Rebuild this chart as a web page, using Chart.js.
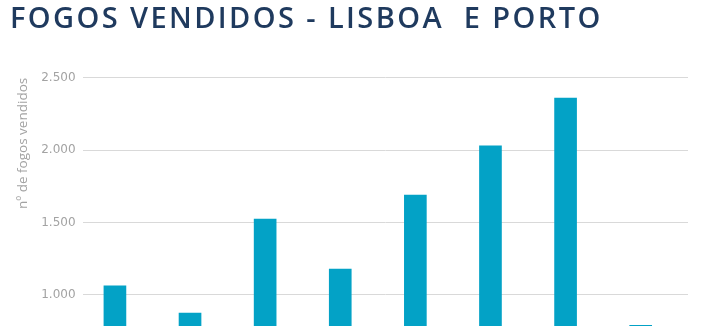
<!DOCTYPE html>
<html>
<head>
<meta charset="utf-8">
<script src="https://cdn.jsdelivr.net/npm/chart.js@4"></script>
<style>
  html, body { margin: 0; padding: 0; background: #fff; overflow: hidden; height: 326px; }
  #wrap { width: 712px; height: 341px; position: relative; }
</style>
</head>
<body>
<div id="wrap"><canvas id="chart"></canvas></div>
<script>
// chart data (bottom of the original is cropped, so only the upper part shows)
const periods = ['1', '2', '3', '4', '5', '6', '7', '8'];
const fogosVendidos = [1062, 873, 1523, 1178, 1689, 2030, 2360, 790];
const yTicks = [1000, 1500, 2000, 2500];

const titleColor = '#1f3a5e';
const axisGrey = '#a3a3a3';

function formatThousands(v) {
  return String(v).replace(/\B(?=(\d{3})+(?!\d))/g, '.');
}

// wider title lettering: letter spacing only while the title block draws
const titleSpacing = {
  id: 'titleSpacing',
  beforeDraw(chart) {
    const tb = chart.titleBlock;
    if (tb && !tb._spaced) {
      const draw = tb.draw.bind(tb);
      tb.draw = (area) => {
        chart.ctx.letterSpacing = '2.4px';
        draw(area);
        chart.ctx.letterSpacing = '0px';
      };
      tb._spaced = true;
    }
  }
};

const ctx = document.getElementById('chart').getContext('2d');
new Chart(ctx, {
  type: 'bar',
  data: {
    labels: periods,
    datasets: [{
      label: 'nº de fogos vendidos',
      data: fogosVendidos.map((v, i) => ({ x: i, y: v })),
      backgroundColor: '#03a2c6',
      barThickness: 22
    }]
  },
  options: {
    responsive: true,
    maintainAspectRatio: false,
    animation: false,
    layout: { padding: { left: 10, right: 24, top: 0, bottom: 0 } },
    plugins: {
      legend: { display: false },
      tooltip: { enabled: false },
      title: {
        display: true,
        text: 'FOGOS VENDIDOS - LISBOA  E PORTO',
        align: 'start',
        color: titleColor,
        font: { family: 'Open Sans', size: 29, weight: '600' },
        padding: { top: 2, bottom: 41 }
      }
    },
    scales: {
      x: {
        type: 'linear',
        display: false,
        offset: false,
        min: -0.431,
        max: 7.63
      },
      y: {
        min: 779,
        max: 2500,
        afterBuildTicks: (axis) => { axis.ticks = yTicks.map(v => ({ value: v })); },
        border: { display: false },
        grid: { color: '#d9d9d9', lineWidth: 1, drawTicks: false },
        ticks: {
          color: axisGrey,
          padding: 7,
          font: { family: 'DejaVu Sans', size: 12 },
          callback: (v) => formatThousands(v)
        },
        title: {
          display: true,
          text: 'nº de fogos vendidos',
          align: 'end',
          color: axisGrey,
          font: { family: 'Open Sans', size: 13.5 },
          padding: { top: 5, bottom: 3 }
        }
      }
    }
  },
  plugins: [titleSpacing]
});
</script>
</body>
</html>
